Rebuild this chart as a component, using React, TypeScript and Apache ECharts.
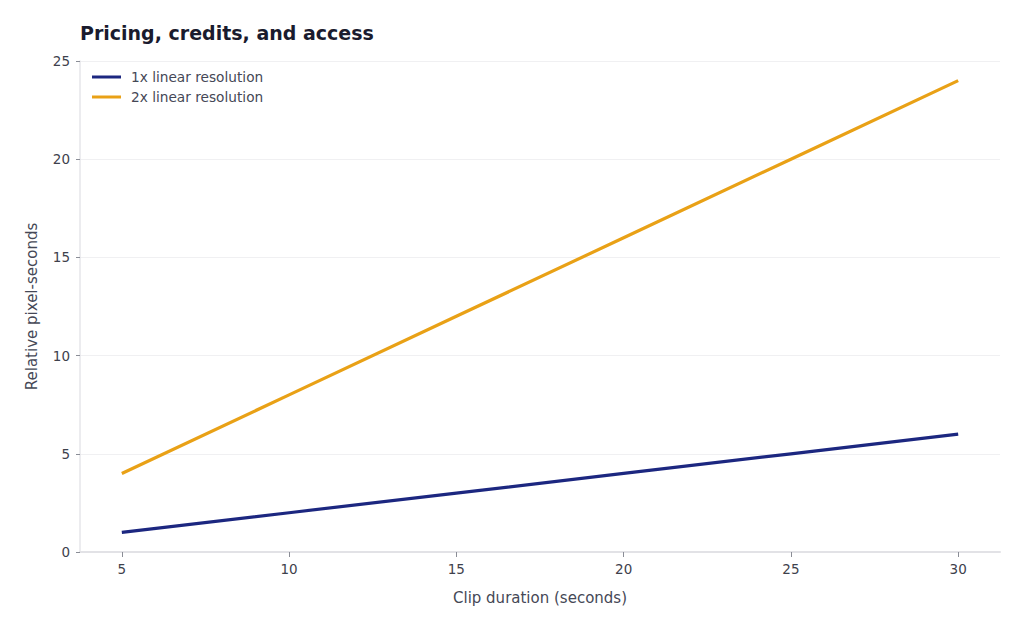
import React, { useEffect, useRef } from "react";
import * as echarts from "echarts";

const clipSeconds = [5, 10, 15, 20, 25, 30];
const linear1x = [1, 2, 3, 4, 5, 6];
const linear2x = [4, 8, 12, 16, 20, 24];
const xTicks = [5, 10, 15, 20, 25, 30];
const seriesNames = ["1x linear resolution", "2x linear resolution"];

const FONT = "DejaVu Sans";

export default function App() {
  const ref = useRef<HTMLDivElement>(null);

  useEffect(() => {
    if (!ref.current) return;
    const chart = echarts.init(ref.current, undefined, { renderer: "svg" });
    chart.setOption({
      animation: false,
      backgroundColor: "#ffffff",
      title: {
        text: "Pricing, credits, and access",
        left: 75,
        top: 18,
        textStyle: {
          fontFamily: FONT,
          fontSize: 19,
          fontWeight: "bold",
          color: "#1a1b2e",
        },
      },
      legend: {
        orient: "vertical",
        left: 87,
        top: 65,
        itemWidth: 29,
        itemHeight: 3,
        itemGap: 6,
        icon: "rect",
        textStyle: {
          fontFamily: FONT,
          fontSize: 13.7,
          color: "#454856",
          padding: [0, 0, 0, 5],
        },
        data: seriesNames,
      },
      grid: { left: 80, right: 24, top: 61, bottom: 79 },
      xAxis: {
        type: "value",
        min: 3.75,
        max: 31.25,
        name: "Clip duration (seconds)",
        nameLocation: "middle",
        nameGap: 38,
        nameTextStyle: { fontFamily: FONT, fontSize: 15, color: "#454856" },
        axisLine: { show: true, lineStyle: { color: "#e2e2e6", width: 2 } },
        axisTick: {
          show: true,
          customValues: xTicks,
          length: 5,
          lineStyle: { color: "#8a8d96" },
        },
        axisLabel: {
          customValues: xTicks,
          fontFamily: FONT,
          fontSize: 13.5,
          color: "#3e414c",
          margin: 10,
        },
        splitLine: { show: false },
      },
      yAxis: {
        type: "value",
        min: 0,
        max: 25,
        interval: 5,
        name: "Relative pixel-seconds",
        nameLocation: "middle",
        nameRotate: 90,
        nameGap: 41,
        nameTextStyle: { fontFamily: FONT, fontSize: 15, color: "#454856" },
        axisLine: { show: true, lineStyle: { color: "#e6e6ea", width: 1.5 } },
        axisTick: { show: true, length: 4, lineStyle: { color: "#8a8d96" } },
        axisLabel: {
          fontFamily: FONT,
          fontSize: 13.5,
          color: "#3e414c",
          margin: 10,
        },
        splitLine: { show: true, lineStyle: { color: "#f0f0f2", width: 1 } },
      },
      series: [
        {
          name: seriesNames[0],
          type: "line",
          data: clipSeconds.map((x, i) => [x, linear1x[i]]),
          showSymbol: false,
          symbol: "none",
          lineStyle: { width: 3.2, color: "#1c2780" },
          itemStyle: { color: "#1c2780" },
        },
        {
          name: seriesNames[1],
          type: "line",
          data: clipSeconds.map((x, i) => [x, linear2x[i]]),
          showSymbol: false,
          symbol: "none",
          lineStyle: { width: 3.2, color: "#e9a116" },
          itemStyle: { color: "#e9a116" },
        },
      ],
    });
    return () => chart.dispose();
  }, []);

  return (
    <div
      ref={ref}
      style={{ position: "fixed", left: 0, top: 0, width: 1024, height: 631 }}
    />
  );
}
